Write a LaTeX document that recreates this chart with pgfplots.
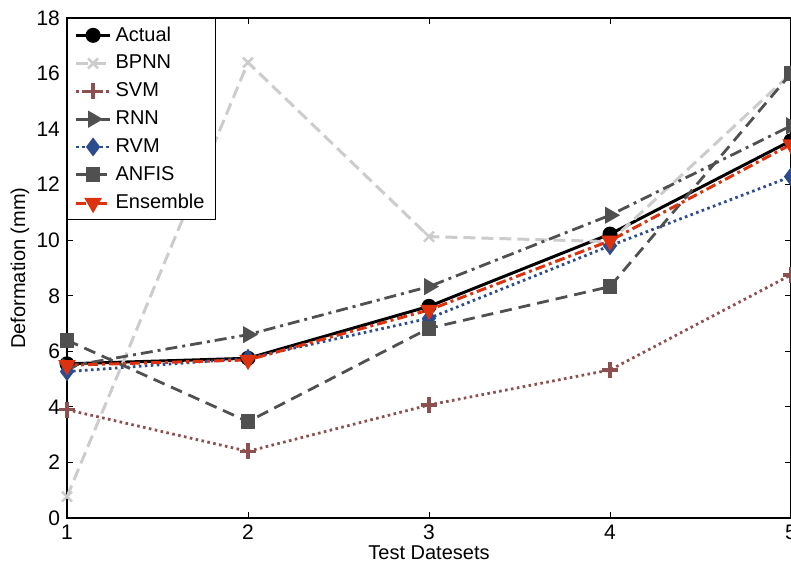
\documentclass[border=0pt]{standalone}
\usepackage{pgfplots}
\pgfplotsset{compat=1.18}
\usepackage{fontspec}
\setmainfont{Liberation Sans}
\definecolor{bpnn}{RGB}{204,204,204}
\definecolor{svm}{RGB}{140,80,80}
\definecolor{dgray}{RGB}{80,80,80}
\definecolor{rvm}{RGB}{44,76,142}
\definecolor{ens}{RGB}{220,50,15}
\begin{document}
\begin{tikzpicture}
\begin{axis}[
  at={(0,0)}, anchor=south west,
  scale only axis, width=362pt, height=250pt,
  xmin=1, xmax=5, ymin=0, ymax=18,
  xtick={1,2,3,4,5}, ytick={0,2,...,18},
  tick align=inside, major tick length=3pt,
  axis line style={line width=0.9pt},
  every tick/.style={black, line width=0.5pt},
  /pgf/number format/assume math mode=true,
  tick label style={font=\fontsize{10.5}{12}\selectfont},
  xlabel={Test Datesets}, ylabel={Deformation (mm)},
  every axis x label/.style={at={(axis description cs:0.5,-0.07)}, anchor=center},
  every axis y label/.style={at={(axis description cs:-0.065,0.5)}, anchor=center, rotate=90},
  legend style={at={(0,1)}, anchor=north west, draw=black, line width=0.6pt, fill=white,
    font=\normalsize, row sep=1.5pt, inner xsep=3.5pt, inner ysep=2pt},
  legend cell align=left,
  legend image code/.code={\draw[mark repeat=2,mark phase=2] plot coordinates {(0pt,0pt)(8.5pt,0pt)(17pt,0pt)};},
]
\addplot[black, line width=1.5pt, mark=*, mark size=3pt, mark options={solid}]
  coordinates {(1,5.55)(2,5.75)(3,7.62)(4,10.22)(5,13.58)};
\addlegendentry{Actual}
\addplot[bpnn, line width=1.5pt, dash pattern=on 6pt off 3pt, mark=x, mark size=3.5pt, mark options={solid, line width=1.3pt}]
  coordinates {(1,0.77)(2,16.4)(3,10.13)(4,9.95)(5,16.0)};
\addlegendentry{BPNN}
\addplot[svm, line width=1.4pt, dash pattern=on 1.3pt off 1.7pt, mark=+, mark size=4pt, mark options={solid, line width=1.6pt}]
  coordinates {(1,3.9)(2,2.4)(3,4.07)(4,5.33)(5,8.75)};
\addlegendentry{SVM}
\addplot[dgray, line width=1.4pt, dash pattern=on 6pt off 2.5pt on 1.5pt off 2.5pt, mark=triangle*, mark size=3.6pt, mark options={solid, rotate=-90}]
  coordinates {(1,5.45)(2,6.6)(3,8.33)(4,10.9)(5,14.12)};
\addlegendentry{RNN}
\addplot[rvm, line width=1.4pt, dash pattern=on 1.3pt off 1.7pt, mark=diamond*, mark size=3.6pt, mark options={solid}]
  coordinates {(1,5.27)(2,5.75)(3,7.19)(4,9.8)(5,12.29)};
\addlegendentry{RVM}
\addplot[dgray, line width=1.4pt, dash pattern=on 6pt off 3.5pt, mark=square*, mark size=3pt, mark options={solid}]
  coordinates {(1,6.4)(2,3.47)(3,6.83)(4,8.33)(5,16.0)};
\addlegendentry{ANFIS}
\addplot[ens, line width=1.5pt, dash pattern=on 5pt off 2pt on 1.5pt off 2pt, mark=triangle*, mark size=3.6pt, mark options={solid, rotate=180}]
  coordinates {(1,5.5)(2,5.69)(3,7.49)(4,9.98)(5,13.45)};
\addlegendentry{Ensemble}
\end{axis}
\pgfresetboundingbox
\useasboundingbox (-33.5pt,-24.5pt) rectangle (362pt,259pt);
\end{tikzpicture}
\end{document}
